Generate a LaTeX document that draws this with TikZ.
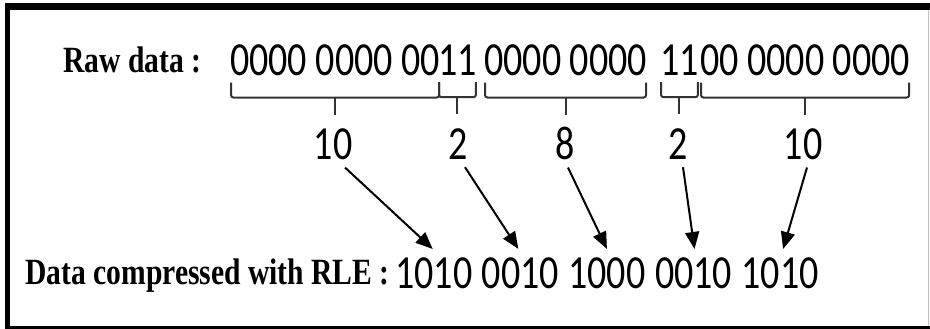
\documentclass[tikz,border=0pt]{standalone}
\usepackage{graphicx}
\usepackage{fontspec}
\setmainfont{Liberation Serif}
\newfontfamily\digitfont{Carlito}
\usetikzlibrary{arrows.meta}

% tall, narrow digits used for all bit strings and counts
\newcommand\tallnum[1]{\scalebox{1}[1.25]{\digitfont\fontsize{38}{40}\selectfont #1}}
% bold serif captions, slightly stretched upward
\newcommand\talltitle[1]{\scalebox{1}[1.25]{\bfseries\fontsize{29.6}{34}\selectfont #1}}

% square bracket under a run of equal bits, with a stem at its centre
\newcommand\runbrace[1]{%
  \draw[runbrace] ([shift={(1,6)}]#1.south west) -- ([shift={(1,21)}]#1.south west)
    -- ([shift={(-1,21)}]#1.south east) -- ([shift={(-1,6)}]#1.south east);
  \draw[runbrace] ([shift={(0,21)}]#1.south) -- ([shift={(0,38)}]#1.south);}

\tikzset{
  heading/.style={inner sep=0, anchor=base west},
  bits/.style={inner sep=0, anchor=base west},
  count/.style={inner sep=0, anchor=base},
  runbrace/.style={draw=black!80, line width=2pt, rounded corners=2.5pt},
  arr/.style={line width=2pt, -{Triangle[length=17pt,width=14pt]}},
  framebar/.style={draw=black}
}

\begin{document}
\begin{tikzpicture}[x=1pt,y=-1pt]
\useasboundingbox (0,0) rectangle (930,329);

% outer frame
\draw[framebar, line width=7pt] (5,6.5) -- (930,6.5);
\draw[framebar, line width=5pt] (7.5,3) -- (7.5,329);
\draw[framebar, line width=3pt] (5,327.5) -- (930,327.5);
\draw[gray!50, line width=1pt] (928.5,10) -- (928.5,326);

% raw data, split into runs
\node[heading] (rawlbl) at (63,73) {\talltitle{Raw data :}};
\node[bits] (r1) at (230,76) {\tallnum{0000 0000 00}};
\node[bits] (r2) at (438,76) {\tallnum{11}};
\node[bits] (r3) at (484,76) {\tallnum{0000 0000}};
\node[bits] (r4) at (660,76) {\tallnum{11}};
\node[bits] (r5) at (700,76) {\tallnum{00 0000 0000}};

\runbrace{r1}
\runbrace{r2}
\runbrace{r3}
\runbrace{r4}
\runbrace{r5}

% run lengths
\node[count] (n1) at (333,159) {\tallnum{10}};
\node[count] (n2) at (458,159) {\tallnum{2}};
\node[count] (n3) at (565,159) {\tallnum{8}};
\node[count] (n4) at (678,159) {\tallnum{2}};
\node[count] (n5) at (803,159) {\tallnum{10}};

% encoded output
\node[heading] (cmplbl) at (25,284) {\talltitle{Data compressed with RLE :}};
\node[bits] (g1) at (395,288) {\tallnum{1010}};
\node[bits] (g2) at (481.6,288) {\tallnum{0010}};
\node[bits] (g3) at (568.2,288) {\tallnum{1000}};
\node[bits] (g4) at (654.8,288) {\tallnum{0010}};
\node[bits] (g5) at (741.4,288) {\tallnum{1010}};

\draw[arr] ([shift={(12,8)}]n1.south) -- ([shift={(-1,-8)}]g1.north);
\draw[arr] ([shift={(7,8)}]n2.south) -- ([shift={(-2,-8)}]g2.north);
\draw[arr] ([shift={(3,8)}]n3.south) -- ([shift={(0,-8)}]g3.north);
\draw[arr] ([shift={(5,8)}]n4.south) -- ([shift={(1,-8)}]g4.north);
\draw[arr] ([shift={(4,8)}]n5.south) -- ([shift={(3,-8)}]g5.north);
\end{tikzpicture}
\end{document}
